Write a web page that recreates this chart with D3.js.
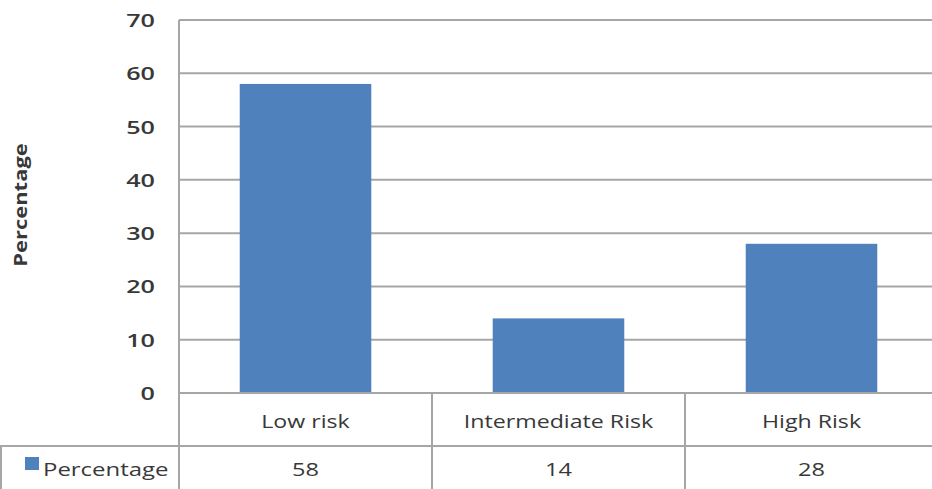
<!DOCTYPE html>
<html>
<head>
<meta charset="utf-8">
<script src="https://cdn.jsdelivr.net/npm/d3@7"></script>
<style>
  html, body { margin: 0; padding: 0; background: #fff; }
  svg { display: block; }
  text { font-family: "Open Sans", "Noto Sans", sans-serif; fill: #383838; }
</style>
</head>
<body>
<svg id="chart" width="932" height="489"></svg>
<script>
// Risk groups and their share (%)
const categories = ["Low risk", "Intermediate Risk", "High Risk"];
const seriesName = "Percentage";
const values = [58, 14, 28];
const yTicks = [0, 10, 20, 30, 40, 50, 60, 70];

const svg = d3.select("#chart");
const W = 932, H = 489;
const plot = { left: 179, right: 938, top: 20, bottom: 393 };
const rowMid = 446;

const x = d3.scaleBand().domain(categories).range([plot.left, plot.right]).paddingInner(0).paddingOuter(0);
const y = d3.scaleLinear().domain([0, 70]).range([plot.bottom, plot.top]);
const barW = x.bandwidth() * 0.52;

// wide text helper: places a horizontally stretched label
function wideText(sel, px, py, sx, anchor) {
  return sel.append("text")
    .attr("transform", `translate(${px},${py}) scale(${sx},1)`)
    .attr("text-anchor", anchor || "middle");
}

// gridlines
svg.append("g").selectAll("line").data(yTicks.filter(d => d > 0)).join("line")
  .attr("x1", plot.left).attr("x2", W)
  .attr("y1", d => y(d)).attr("y2", d => y(d))
  .attr("stroke", "#a6a6a6").attr("stroke-width", 2);

// bars
svg.append("g").selectAll("rect").data(values).join("rect")
  .attr("x", (d, i) => x(categories[i]) + (x.bandwidth() - barW) / 2)
  .attr("width", barW)
  .attr("y", d => y(d))
  .attr("height", d => y(0) - y(d))
  .attr("fill", "#4f81bd");

// y axis labels
const yAxis = d3.axisLeft(y).tickValues(yTicks).tickSize(0).tickPadding(0);
const ya = svg.append("g").attr("transform", `translate(155,0)`).call(yAxis);
ya.select(".domain").remove();
ya.selectAll(".tick text")
  .attr("x", null).attr("dy", null)
  .attr("transform", "translate(0,6.5) scale(1.4,1)")
  .style("font-family", '"Open Sans", sans-serif')
  .attr("font-size", 18).attr("font-weight", 600).attr("fill", "#383838");

// y axis title
svg.append("text")
  .attr("transform", `translate(27,205) rotate(-90) scale(1.22,1)`)
  .attr("text-anchor", "middle")
  .attr("font-size", 18).attr("font-weight", 700)
  .text("Percentage");

// data table borders
const border = svg.append("g").attr("stroke", "#a6a6a6").attr("stroke-width", 2).attr("fill", "none");
border.append("line").attr("x1", plot.left).attr("x2", W).attr("y1", y(0)).attr("y2", y(0));
border.append("line").attr("x1", 0).attr("x2", W).attr("y1", rowMid).attr("y2", rowMid);
border.append("line").attr("x1", 1).attr("x2", 1).attr("y1", rowMid).attr("y2", H);
border.append("line").attr("x1", plot.left).attr("x2", plot.left).attr("y1", plot.top).attr("y2", H);
categories.slice(1).forEach(c => {
  border.append("line").attr("x1", x(c)).attr("x2", x(c)).attr("y1", y(0)).attr("y2", H);
});

// category labels
const catG = svg.append("g");
categories.forEach(c => {
  wideText(catG, x(c) + x.bandwidth() / 2, 428, 1.22)
    .attr("font-size", 19).text(c);
});

// value row
const valG = svg.append("g");
values.forEach((v, i) => {
  wideText(valG, x(categories[i]) + x.bandwidth() / 2, 476, 1.24)
    .attr("font-size", 19).text(v);
});

// legend key in the table
svg.append("rect").attr("x", 25).attr("y", 457).attr("width", 14).attr("height", 13).attr("fill", "#4f81bd");
wideText(svg, 43, 476, 1.26, "start").attr("font-size", 19).text(seriesName);
</script>
</body>
</html>
